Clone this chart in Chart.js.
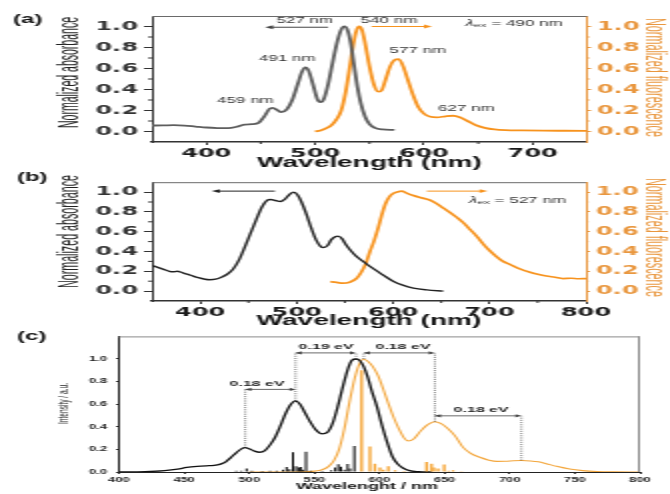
<!DOCTYPE html>
<html lang="en">
<head>
<meta charset="UTF-8">
<title>Absorbance and fluorescence spectra</title>
<script src="https://cdn.jsdelivr.net/npm/chart.js"></script>
<style>
  body { margin: 0; background: #fff; }
  #fig { position: relative; width: 670px; height: 494px; overflow: hidden; background: #fff; }
  #fig canvas { position: absolute; left: 0; }
</style>
</head>
<body>
<div id="fig">
  <canvas id="panelA" width="335" height="172" style="top:0;width:670px;height:172px"></canvas>
  <canvas id="panelB" width="335" height="158" style="top:172px;width:670px;height:158px"></canvas>
  <canvas id="panelC" width="335" height="166" style="top:328px;width:670px;height:166px"></canvas>
</div>
<script>
// (a) absorbance and fluorescence, excitation at 490 nm
const absA_nm = [350, 360, 370, 380, 390, 400, 410, 420, 428, 435, 442, 448, 453, 458, 461, 465, 469, 474, 479, 484, 488, 491, 494, 498, 502, 505, 508, 512, 516, 520, 524, 527, 530, 533, 536, 539, 542, 546, 550, 555, 562, 573];
const absA = [0.057, 0.058, 0.06, 0.056, 0.047, 0.038, 0.033, 0.032, 0.045, 0.065, 0.07, 0.082, 0.14, 0.215, 0.225, 0.205, 0.185, 0.21, 0.3, 0.45, 0.57, 0.61, 0.58, 0.45, 0.31, 0.28, 0.31, 0.45, 0.65, 0.84, 0.97, 1.0, 0.96, 0.83, 0.62, 0.42, 0.27, 0.14, 0.07, 0.035, 0.02, 0.015];
const fluA_nm = [500, 505, 510, 515, 520, 524, 528, 532, 535, 538, 540.5, 543, 546, 550, 554, 558, 561, 565, 569, 573, 577, 581, 585, 590, 595, 600, 606, 612, 620, 627, 633, 640, 648, 656, 665, 675, 690, 710, 730, 750];
const fluA = [0, 0.01, 0.03, 0.06, 0.12, 0.2, 0.37, 0.62, 0.82, 0.96, 1.0, 0.97, 0.84, 0.62, 0.45, 0.38, 0.39, 0.5, 0.62, 0.68, 0.69, 0.62, 0.5, 0.35, 0.23, 0.17, 0.14, 0.135, 0.145, 0.15, 0.135, 0.1, 0.06, 0.035, 0.02, 0.013, 0.01, 0.008, 0.007, 0.006];

// (b) absorbance and fluorescence, excitation at 527 nm
const absB_nm = [350, 356, 362, 368, 372, 376, 382, 390, 398, 405, 410, 416, 422, 428, 434, 440, 446, 452, 458, 464, 469, 473, 478, 483, 488, 493, 497, 501, 505, 510, 515, 520, 525, 528, 532, 536, 540, 543, 547, 551, 556, 562, 569, 576, 583, 590, 600, 610, 621, 635, 652];
const absB = [0.26, 0.24, 0.22, 0.2, 0.195, 0.2, 0.185, 0.16, 0.135, 0.12, 0.115, 0.12, 0.14, 0.17, 0.22, 0.31, 0.44, 0.58, 0.72, 0.85, 0.915, 0.925, 0.915, 0.905, 0.93, 0.98, 1.0, 0.97, 0.9, 0.78, 0.64, 0.52, 0.45, 0.44, 0.46, 0.52, 0.55, 0.555, 0.53, 0.47, 0.41, 0.35, 0.3, 0.25, 0.205, 0.16, 0.1, 0.06, 0.03, 0.012, 0];
const fluB_nm = [535, 540, 548, 555, 562, 567, 572, 576, 580, 584, 588, 592, 596, 600, 604, 609, 614, 621, 628, 638, 645, 652, 659, 666, 673, 680, 687, 694, 700, 707, 714, 721, 730, 742, 750, 759, 768, 776, 785, 792, 800];
const fluB = [0.095, 0.09, 0.08, 0.09, 0.127, 0.19, 0.285, 0.4, 0.5, 0.62, 0.76, 0.88, 0.95, 0.985, 1.0, 1.01, 0.99, 0.965, 0.945, 0.92, 0.885, 0.84, 0.795, 0.745, 0.69, 0.62, 0.55, 0.47, 0.41, 0.35, 0.3, 0.27, 0.23, 0.19, 0.17, 0.152, 0.14, 0.127, 0.13, 0.125, 0.127];

// (c) computed absorption / emission bands and their vibronic sticks
const absC_nm = [400, 420, 435, 445, 452, 460, 467, 473, 478, 482, 486, 490, 494, 497, 500, 504, 508, 512, 516, 520, 524, 528, 532, 535.5, 539, 543, 547, 551, 556, 560, 564, 568, 572, 576, 579, 582, 585, 588, 591, 594, 598, 602, 606, 610, 614, 618, 623, 630, 640];
const absC = [0, 0.003, 0.012, 0.025, 0.04, 0.05, 0.055, 0.058, 0.07, 0.09, 0.13, 0.17, 0.205, 0.215, 0.205, 0.185, 0.175, 0.19, 0.24, 0.31, 0.41, 0.52, 0.6, 0.63, 0.6, 0.52, 0.44, 0.375, 0.337, 0.35, 0.43, 0.58, 0.76, 0.92, 0.99, 1.0, 0.985, 0.93, 0.84, 0.72, 0.58, 0.41, 0.26, 0.135, 0.07, 0.035, 0.012, 0.003, 0];
const emC_nm = [500, 520, 540, 550, 556, 561, 565, 569, 573, 577, 581, 584, 587.5, 591, 595, 599, 603, 607, 611, 615, 619, 622, 626, 631, 636, 642.5, 647, 652, 658, 664, 670, 677, 684, 690, 697, 703, 709, 716, 722, 728, 736, 746, 756, 767, 780, 800];
const emC = [0, 0, 0.002, 0.008, 0.02, 0.05, 0.1, 0.2, 0.38, 0.62, 0.83, 0.94, 1.0, 0.98, 0.93, 0.85, 0.73, 0.6, 0.48, 0.38, 0.3, 0.275, 0.29, 0.355, 0.41, 0.445, 0.43, 0.39, 0.32, 0.22, 0.165, 0.13, 0.105, 0.094, 0.095, 0.1, 0.102, 0.098, 0.09, 0.074, 0.05, 0.026, 0.012, 0.004, 0.001, 0];
const stickAbs_nm = [490, 494, 498, 502, 510, 516, 521, 526, 528.7, 531, 533.6, 536, 538, 539.5, 541, 543.6, 547, 556, 563, 566, 568.4, 570.4, 573, 575.6, 577.3, 580.7];
const stickAbs = [0.012, 0.01, 0.03, 0.012, 0.008, 0.01, 0.012, 0.02, 0.045, 0.025, 0.175, 0.05, 0.04, 0.045, 0.02, 0.18, 0.012, 0.008, 0.015, 0.04, 0.069, 0.046, 0.02, 0.07, 0.03, 0.23];
const stickEm_nm = [586.3, 592.7, 596.5, 600.4, 603, 606.8, 612, 619, 636.2, 640, 641.8, 645, 649.7, 653, 656.5, 663, 670, 712];
const stickEm = [0.9, 0.225, 0.074, 0.04, 0.02, 0.05, 0.015, 0.008, 0.088, 0.074, 0.04, 0.03, 0.066, 0.01, 0.015, 0.006, 0.005, 0.005];

// tick values
const ticksA_x = [400, 500, 600, 700];
const ticksA_xMinor = [450, 550, 650];
const ticksB_x = [400, 500, 600, 700, 800];
const ticksB_xMinor = [450, 550, 650, 750];
const ticksNorm = [0, 0.2, 0.4, 0.6, 0.8, 1.0];
const ticksNormMinor = [0.1, 0.3, 0.5, 0.7, 0.9];
const ticksC_x = [400, 450, 500, 550, 600, 650, 700, 750, 800];
const ticksC_y = [0, 0.2, 0.4, 0.6, 0.8, 1.0];

const SANS = '"Liberation Sans", Arial, sans-serif';
const TICKF = '"DejaVu Sans", sans-serif';
const DARK = '#333333';
const GREY = '#5e5e5e';
const ORANGE = '#f7931e';
const ORANGE_T = '#e9973f';
const AMBER = '#f3a63c';

const pairs = (xs, ys) => xs.map((x, i) => ({ x: x, y: ys[i] }));
const fixedSize = size => scale => {
  if (scale.isHorizontal()) scale.height = size; else scale.width = size;
};
const setTicks = values => scale => { scale.ticks = values.map(v => ({ value: v })); };

// annotations, arrows, frame, minor ticks and the narrow vertical titles
const notes = {
  id: 'notes',
  afterDraw(chart, args, o) {
    const { ctx, chartArea: a, scales } = chart;
    const X = v => scales.x.getPixelForValue(v);
    const Y = v => scales.y.getPixelForValue(v);
    ctx.save();

    ctx.strokeStyle = o.frame;
    ctx.lineWidth = 1;
    ctx.beginPath();
    ctx.moveTo(a.left, a.top + 0.5);
    ctx.lineTo(a.right, a.top + 0.5);
    if (o.frameRight) {
      ctx.moveTo(a.right - 0.5, a.top);
      ctx.lineTo(a.right - 0.5, a.bottom);
    }
    ctx.stroke();

    for (const m of o.minor || []) {
      const s = scales[m.axis];
      ctx.strokeStyle = m.color;
      ctx.beginPath();
      for (const v of m.values) {
        const p = s.getPixelForValue(v);
        if (s.isHorizontal()) { ctx.moveTo(p, a.bottom); ctx.lineTo(p, a.bottom + m.len); }
        else if (s.position === 'left') { ctx.moveTo(a.left, p); ctx.lineTo(a.left - m.len, p); }
        else { ctx.moveTo(a.right, p); ctx.lineTo(a.right + m.len, p); }
      }
      ctx.stroke();
    }

    ctx.setLineDash([1, 1.2]);
    ctx.lineWidth = 0.6;
    ctx.strokeStyle = '#222';
    for (const g of o.guides || []) {
      ctx.beginPath();
      ctx.moveTo(X(g.x), Y(g.y0));
      ctx.lineTo(X(g.x), Y(g.y1));
      ctx.stroke();
    }
    ctx.setLineDash([]);

    const head = (x, y, dir, len, half) => {
      ctx.beginPath();
      ctx.moveTo(x, y);
      ctx.lineTo(x - dir * len, y - half);
      ctx.lineTo(x - dir * len, y + half);
      ctx.closePath();
      ctx.fill();
    };
    for (const ar of o.arrows || []) {
      const x0 = X(ar.x0), x1 = X(ar.x1), y = Y(ar.y);
      const dir = x1 > x0 ? 1 : -1;
      ctx.strokeStyle = ar.color;
      ctx.fillStyle = ar.color;
      ctx.lineWidth = ar.lw;
      ctx.beginPath();
      ctx.moveTo(x0, y);
      ctx.lineTo(x1 - dir * ar.len * 0.6, y);
      ctx.stroke();
      head(x1, y, dir, ar.len, ar.half);
      if (ar.both) head(x0, y, -dir, ar.len, ar.half);
    }

    ctx.textAlign = 'center';
    ctx.textBaseline = 'middle';
    for (const t of o.texts || []) {
      ctx.font = t.font;
      ctx.fillStyle = t.color || DARK;
      ctx.fillText(t.text, X(t.x), t.py !== undefined ? t.py : Y(t.y));
    }

    // axis titles squeezed along their length
    for (const t of o.vtitles || []) {
      ctx.save();
      ctx.font = t.size + 'px ' + SANS;
      ctx.fillStyle = t.color;
      const w = ctx.measureText(t.text).width;
      ctx.translate(t.px, t.py);
      ctx.rotate(t.side === 'left' ? -Math.PI / 2 : Math.PI / 2);
      ctx.scale(t.len / w, 1);
      ctx.fillText(t.text, 0, 0);
      ctx.restore();
    }

    if (o.lambda) {
      const L = o.lambda;
      const big = L.size + 'px ' + SANS;
      const small = (L.size * 0.7) + 'px ' + SANS;
      ctx.font = 'italic ' + big;
      const w1 = ctx.measureText('λ').width;
      ctx.font = small;
      const w2 = ctx.measureText('ex').width;
      ctx.font = big;
      const w3 = ctx.measureText(L.rest).width;
      let x = X(L.x) - (w1 + w2 + w3) / 2;
      const y = Y(L.y);
      ctx.textAlign = 'left';
      ctx.fillStyle = DARK;
      ctx.font = 'italic ' + big;
      ctx.fillText('λ', x, y);
      x += w1;
      ctx.font = small;
      ctx.fillText('ex', x, y + 2);
      x += w2;
      ctx.font = big;
      ctx.fillText(L.rest, x, y);
    }

    if (o.tag) {
      ctx.textAlign = 'left';
      ctx.fillStyle = '#111';
      ctx.font = 'bold 12px ' + SANS;
      ctx.fillText(o.tag.text, o.tag.x, o.tag.y);
    }
    ctx.restore();
  }
};

const base = {
  responsive: false,
  animation: false,
  devicePixelRatio: 1,
  events: [],
  elements: {
    point: { radius: 0 },
    line: { cubicInterpolationMode: 'monotone', fill: false }
  }
};

function waveAxis(min, max, values, height) {
  return {
    type: 'linear', position: 'bottom', min: min, max: max, offset: false,
    afterBuildTicks: setTicks(values),
    afterFit: fixedSize(height),
    border: { display: true, color: DARK, width: 1.4 },
    grid: { drawOnChartArea: false, offset: false, tickLength: 3, tickColor: DARK, tickWidth: 1 },
    ticks: { color: '#1a1a1a', padding: 2, maxRotation: 0, autoSkip: false,
      font: { family: TICKF, size: 12, weight: 'bold' } },
    title: { display: true, text: 'Wavelength (nm)', color: '#111',
      font: { family: SANS, size: 14, weight: 'bold' }, padding: { top: 0, bottom: 0.6 } }
  };
}

function normAxis(pos, width, color, tickLen) {
  return {
    type: 'linear', position: pos, min: -0.1, max: 1.1,
    afterBuildTicks: setTicks(ticksNorm),
    afterFit: fixedSize(width),
    border: { display: true, color: color, width: 1 },
    grid: { drawOnChartArea: false, tickLength: tickLen, tickColor: color, tickWidth: 1 },
    ticks: { color: color, padding: 3, font: { family: TICKF, size: 12, weight: 'bold' },
      callback: v => v.toFixed(1) }
  };
}

const noteFont = '8.5px ' + SANS;

new Chart(document.getElementById('panelA'), {
  type: 'line',
  data: {
    datasets: [
      { data: pairs(absA_nm, absA), borderColor: GREY, borderWidth: 1.8, yAxisID: 'y' },
      { data: pairs(fluA_nm, fluA), borderColor: ORANGE, borderWidth: 1.8, yAxisID: 'y2' }
    ]
  },
  options: Object.assign({}, base, {
    layout: { padding: { top: 16, left: 0, right: 0, bottom: 0 } },
    scales: {
      x: waveAxis(350, 750, ticksA_x, 30),
      y: normAxis('left', 76, DARK, 4),
      y2: normAxis('right', 41.5, ORANGE_T, 2)
    },
    plugins: {
      legend: { display: false },
      tooltip: { enabled: false },
      notes: {
        frame: '#6a6a6a',
        minor: [
          { axis: 'x', values: ticksA_xMinor, len: 2, color: DARK },
          { axis: 'y', values: ticksNormMinor, len: 2, color: DARK },
          { axis: 'y2', values: ticksNormMinor, len: 1.2, color: ORANGE_T }
        ],
        arrows: [
          { x0: 512, x1: 454, y: 0.993, color: '#444', lw: 1, len: 4, half: 2 },
          { x0: 552, x1: 607.5, y: 1.0, color: ORANGE, lw: 1, len: 4, half: 2 }
        ],
        texts: [
          { text: '527 nm', x: 490.7, y: 1.057, font: noteFont },
          { text: '540 nm', x: 568, y: 1.057, font: noteFont },
          { text: '491 nm', x: 474.6, y: 0.695, font: noteFont },
          { text: '459 nm', x: 436, y: 0.295, font: noteFont },
          { text: '577 nm', x: 594.6, y: 0.77, font: noteFont },
          { text: '627 nm', x: 639, y: 0.22, font: noteFont }
        ],
        vtitles: [
          { text: 'Normalized absorbance', side: 'left', px: 35, py: 72.5, len: 111, size: 15, color: '#222' },
          { text: 'Normalized fluorescence', side: 'right', px: 327.5, py: 77.5, len: 119, size: 15, color: ORANGE_T }
        ],
        lambda: { x: 683, y: 1.03, size: 8.5, rest: ' = 490 nm' },
        tag: { text: '(a)', x: 6.5, y: 19.5 }
      }
    }
  }),
  plugins: [notes]
});

new Chart(document.getElementById('panelB'), {
  type: 'line',
  data: {
    datasets: [
      { data: pairs(absB_nm, absB), borderColor: '#222', borderWidth: 1.4, yAxisID: 'y' },
      { data: pairs(fluB_nm, fluB), borderColor: ORANGE, borderWidth: 1.7, yAxisID: 'y2' }
    ]
  },
  options: Object.assign({}, base, {
    layout: { padding: { top: 3, left: 0, right: 0, bottom: 0 } },
    scales: {
      x: waveAxis(350, 800, ticksB_x, 29),
      y: normAxis('left', 76, DARK, 4),
      y2: normAxis('right', 42, ORANGE_T, 2)
    },
    plugins: {
      legend: { display: false },
      tooltip: { enabled: false },
      notes: {
        frame: '#6a6a6a',
        minor: [
          { axis: 'x', values: ticksB_xMinor, len: 2, color: DARK },
          { axis: 'y', values: ticksNormMinor, len: 2, color: DARK },
          { axis: 'y2', values: ticksNormMinor, len: 1.2, color: ORANGE_T }
        ],
        arrows: [
          { x0: 477.5, x1: 412, y: 1.01, color: '#222', lw: 1, len: 4, half: 1.8 },
          { x0: 635, x1: 698, y: 1.01, color: ORANGE, lw: 1, len: 4, half: 1.8 }
        ],
        vtitles: [
          { text: 'Normalized absorbance', side: 'left', px: 35, py: 59.5, len: 113, size: 15, color: '#222' },
          { text: 'Normalized fluorescence', side: 'right', px: 327.5, py: 65.5, len: 119, size: 15, color: ORANGE_T }
        ],
        lambda: { x: 729, y: 0.914, size: 8.5, rest: ' = 527 nm' },
        tag: { text: '(b)', x: 8.5, y: 5.5 }
      }
    }
  }),
  plugins: [notes]
});

const eV = 'bold 8px ' + SANS;
const smallTicks = { family: SANS, size: 6.5, weight: 'bold' };

new Chart(document.getElementById('panelC'), {
  type: 'line',
  data: {
    datasets: [
      { type: 'bar', data: pairs(stickAbs_nm, stickAbs), backgroundColor: '#000',
        barThickness: 1, inflateAmount: 0, grouped: false, borderWidth: 0 },
      { type: 'bar', data: pairs(stickEm_nm, stickEm), backgroundColor: '#f5a02a',
        barThickness: 1.3, inflateAmount: 0, grouped: false, borderWidth: 0 },
      { data: pairs(absC_nm, absC), borderColor: '#111', borderWidth: 1.3 },
      { data: pairs(emC_nm, emC), borderColor: AMBER, borderWidth: 1.1 }
    ]
  },
  options: Object.assign({}, base, {
    layout: { padding: { top: 4, left: 0, right: 15, bottom: 0 } },
    scales: {
      x: {
        type: 'linear', position: 'bottom', min: 400, max: 800, offset: false,
        afterBuildTicks: setTicks(ticksC_x),
        afterFit: fixedSize(22),
        border: { display: true, color: '#222', width: 1 },
        grid: { drawOnChartArea: false, offset: false, tickLength: 2, tickColor: '#333' },
        ticks: { color: '#222', padding: 2, maxRotation: 0, autoSkip: false, font: smallTicks }
      },
      y: {
        type: 'linear', position: 'left', min: 0, max: 1.2,
        afterBuildTicks: setTicks(ticksC_y),
        afterFit: fixedSize(59.5),
        border: { display: true, color: '#222', width: 1 },
        grid: { drawOnChartArea: false, tickLength: 1.5, tickColor: '#333' },
        ticks: { color: '#222', padding: 4.5, font: smallTicks, callback: v => v.toFixed(1) }
      }
    },
    plugins: {
      legend: { display: false },
      tooltip: { enabled: false },
      notes: {
        frame: '#8a8a8a',
        frameRight: true,
        guides: [
          { x: 497, y0: 0.215, y1: 0.731 },
          { x: 535.6, y0: 0.63, y1: 1.054 },
          { x: 582, y0: 1.0, y1: 1.054 },
          { x: 588, y0: 1.0, y1: 1.054 },
          { x: 642.5, y0: 0.445, y1: 1.054 },
          { x: 709, y0: 0.102, y1: 0.497 }
        ],
        arrows: [
          { x0: 497, x1: 535.6, y: 0.731, color: '#444', lw: 0.8, len: 3, half: 1.6, both: true },
          { x0: 535.6, x1: 582, y: 1.054, color: '#444', lw: 0.8, len: 3, half: 1.6, both: true },
          { x0: 588, x1: 642.5, y: 1.054, color: '#444', lw: 0.8, len: 3, half: 1.6, both: true },
          { x0: 642.5, x1: 709, y: 0.497, color: '#444', lw: 0.8, len: 3, half: 1.6, both: true }
        ],
        texts: [
          { text: '0.18 eV', x: 506, y: 0.78, font: eV, color: '#222' },
          { text: '0.19 eV', x: 559, y: 1.106, font: eV, color: '#222' },
          { text: '0.18 eV', x: 618, y: 1.106, font: eV, color: '#222' },
          { text: '0.18 eV', x: 678, y: 0.549, font: eV, color: '#222' },
          { text: 'Wavelenght / nm', x: 590.4, py: 159, font: 'bold 9px ' + SANS, color: '#111' }
        ],
        vtitles: [
          { text: 'Intensity / a.u.', side: 'left', px: 31.75, py: 75.5, len: 41, size: 7.5, color: '#222' }
        ],
        tag: { text: '(c)', x: 8.5, y: 9 }
      }
    }
  }),
  plugins: [notes]
});
</script>
</body>
</html>
